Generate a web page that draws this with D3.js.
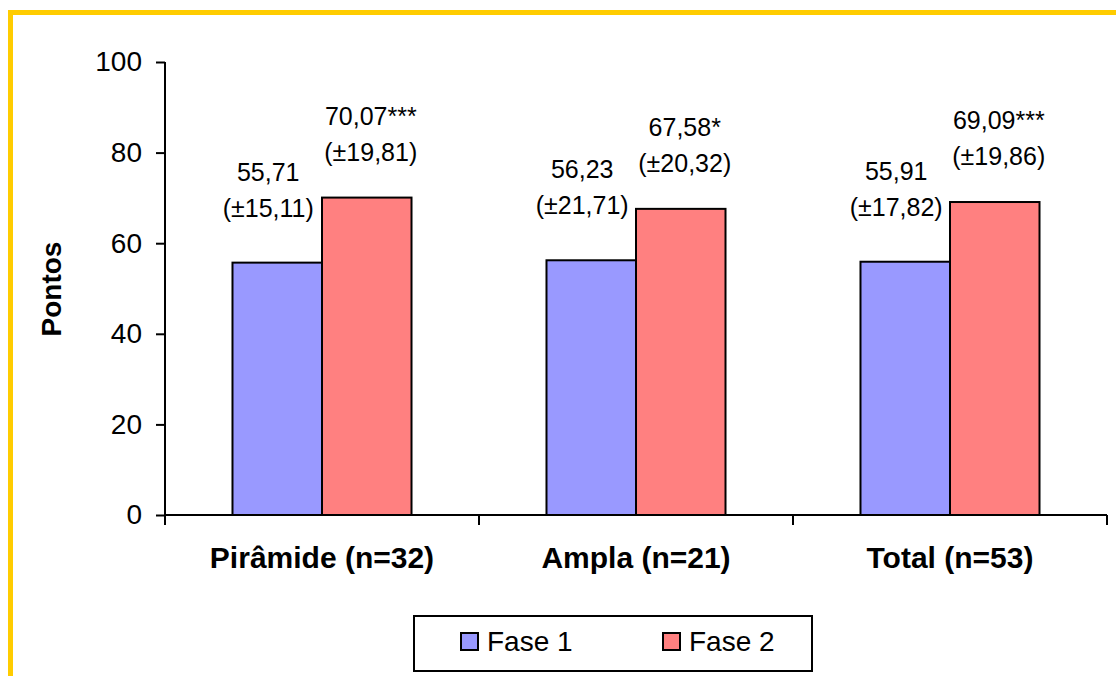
<!DOCTYPE html>
<html>
<head>
<meta charset="utf-8">
<script src="https://cdn.jsdelivr.net/npm/d3@7"></script>
<style>
  body { margin: 0; background: #fff; }
  svg { display: block; font-family: Arial, "Liberation Sans", sans-serif; }
</style>
</head>
<body>
<svg width="1116" height="676"></svg>
<script>
var categories = ["Pirâmide (n=32)", "Ampla (n=21)", "Total (n=53)"];
var series = ["Fase 1", "Fase 2"];
var fase1 = [55.71, 56.23, 55.91];
var fase1Sd = [15.11, 21.71, 17.82];
var fase2 = [70.07, 67.58, 69.09];
var fase2Sd = [19.81, 20.32, 19.86];
var fase2Sig = ["***", "*", "***"];
var fase1Sig = ["", "", ""];
var yTicks = [0, 20, 40, 60, 80, 100];
var colors = ["#9999ff", "#ff8080"];

var svg = d3.select("svg");

// yellow frame round the chart (runs off right and bottom)
svg.append("rect")
    .attr("x", 10.5).attr("y", 12.5)
    .attr("width", 1200).attr("height", 800)
    .attr("fill", "none")
    .attr("stroke", "#ffcc00")
    .attr("stroke-width", 5);

var y = d3.scaleLinear().domain([0, 100]).range([515, 62]);
var x0 = d3.scaleBand().domain(categories).range([165, 1107]);
var x1 = d3.scaleBand().domain(series).range([0, x0.bandwidth()]).paddingOuter(0.754);

var rows = categories.map(function (c, i) {
    return {
        cat: c,
        vals: [
            { s: 0, v: fase1[i], sd: fase1Sd[i], sig: fase1Sig[i] },
            { s: 1, v: fase2[i], sd: fase2Sd[i], sig: fase2Sig[i] }
        ]
    };
});

function fmt(v) {
    return d3.format(".2f")(v).replace(".", ",");
}

var groups = svg.append("g").selectAll("g").data(rows).enter().append("g")
    .attr("transform", function (d) { return "translate(" + x0(d.cat) + ",0)"; });

groups.selectAll("rect").data(function (d) { return d.vals; }).enter().append("rect")
    .attr("x", function (d) { return x1(series[d.s]); })
    .attr("y", function (d) { return y(d.v); })
    .attr("width", x1.bandwidth())
    .attr("height", function (d) { return y(0) - y(d.v); })
    .attr("fill", function (d) { return colors[d.s]; })
    .attr("stroke", "#000")
    .attr("stroke-width", 2);

// value labels, two lines, nudged like the original
var labelLift = [46, 37];
var labelShift = [-9, 4];
var labels = groups.selectAll("text.val").data(function (d) { return d.vals; }).enter().append("text")
    .attr("class", "val")
    .attr("text-anchor", "middle")
    .attr("font-size", 25)
    .attr("fill", "#000");
labels.append("tspan")
    .attr("x", function (d) { return x1(series[d.s]) + x1.bandwidth() / 2 + labelShift[d.s]; })
    .attr("y", function (d) { return y(d.v) - labelLift[d.s] - 36; })
    .text(function (d) { return fmt(d.v) + d.sig; });
labels.append("tspan")
    .attr("x", function (d) { return x1(series[d.s]) + x1.bandwidth() / 2 + labelShift[d.s]; })
    .attr("y", function (d) { return y(d.v) - labelLift[d.s]; })
    .text(function (d) { return "(\u00b1" + fmt(d.sd) + ")"; });

// y axis
var yAxis = svg.append("g")
    .attr("transform", "translate(165,0)")
    .call(d3.axisLeft(y).tickValues(yTicks).tickSize(9).tickPadding(14));
yAxis.select(".domain").attr("stroke", "#000").attr("stroke-width", 2)
    .attr("d", "M0," + y(100) + "V" + y(0));
yAxis.selectAll(".tick line").attr("stroke", "#000").attr("stroke-width", 2);
yAxis.selectAll(".tick text").attr("font-size", 28).attr("fill", "#000")
    .attr("font-family", "Arial, 'Liberation Sans', sans-serif");

// x axis with ticks between categories
var xg = svg.append("g");
xg.append("line")
    .attr("x1", 165).attr("x2", 1107)
    .attr("y1", y(0)).attr("y2", y(0))
    .attr("stroke", "#000").attr("stroke-width", 2);
var bounds = categories.map(function (c) { return x0(c); }).concat([x0.range()[1]]);
xg.selectAll("line.tk").data(bounds).enter().append("line")
    .attr("class", "tk")
    .attr("x1", function (d) { return d; }).attr("x2", function (d) { return d; })
    .attr("y1", y(0)).attr("y2", y(0) + 10)
    .attr("stroke", "#000").attr("stroke-width", 2);
xg.selectAll("text").data(categories).enter().append("text")
    .attr("x", function (d) { return x0(d) + x0.bandwidth() / 2; })
    .attr("y", 568)
    .attr("text-anchor", "middle")
    .attr("font-size", 30)
    .attr("font-weight", "bold")
    .text(function (d) { return d; });

svg.append("text")
    .attr("transform", "translate(61,289) rotate(-90)")
    .attr("text-anchor", "middle")
    .attr("font-size", 28)
    .attr("font-weight", "bold")
    .text("Pontos");

// legend
var lg = svg.append("g");
lg.append("rect")
    .attr("x", 414).attr("y", 616).attr("width", 398).attr("height", 55)
    .attr("fill", "#fff").attr("stroke", "#000").attr("stroke-width", 2);
var legX = [461, 663];
var items = lg.selectAll("g").data(series).enter().append("g")
    .attr("transform", function (d, i) { return "translate(" + legX[i] + ",0)"; });
items.append("rect")
    .attr("x", 0).attr("y", 633).attr("width", 17).attr("height", 17)
    .attr("fill", function (d, i) { return colors[i]; })
    .attr("stroke", "#000").attr("stroke-width", 2);
items.append("text")
    .attr("x", 26).attr("y", 651)
    .attr("font-size", 28)
    .text(function (d) { return d; });
</script>
</body>
</html>
